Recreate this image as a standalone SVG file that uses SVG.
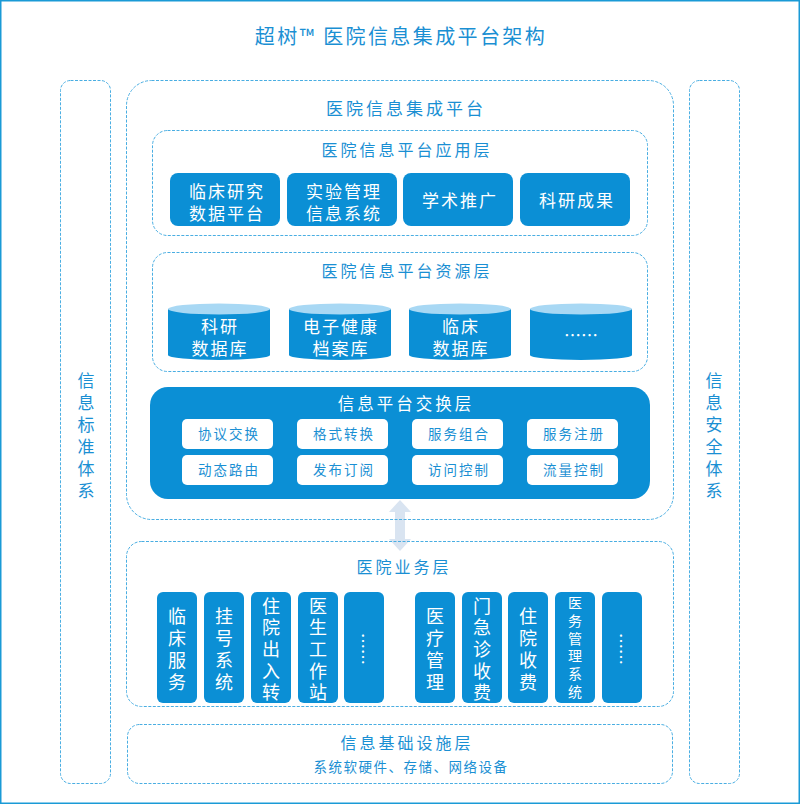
<svg xmlns="http://www.w3.org/2000/svg" width="800" height="805" viewBox="0 0 800 805">
<defs>
<style>
text{font-family:"Noto Sans CJK SC","Noto Sans",sans-serif;}
.frame{fill:#fff;stroke:#1a9ad6;stroke-width:1.5;}
.dash{fill:none;stroke:#4aaee2;stroke-width:1;stroke-dasharray:3 1.5;}
.ttl{fill:#1a8fd3;font-size:16px;letter-spacing:3px;text-anchor:middle;}
.big{fill:#1a8fd3;font-size:20px;letter-spacing:2.4px;text-anchor:middle;}
.vt{fill:#1a8fd3;font-size:17px;letter-spacing:5px;text-anchor:middle;writing-mode:vertical-rl;}
.box{fill:#0b8fd5;}
.wt{fill:#fff;font-size:17px;letter-spacing:2px;text-anchor:middle;}
.w2{font-family:"Liberation Sans","Noto Sans CJK SC",sans-serif;}
.wbox{fill:#fff;}
.bt{fill:#1a8fd3;font-size:13.5px;letter-spacing:2px;text-anchor:middle;}
.cyl{fill:#0b8fd5;}
.cyltop{fill:#a8d8f4;}
.vw{fill:#fff;font-size:18px;letter-spacing:3.7px;text-anchor:middle;writing-mode:vertical-rl;}
.vs{fill:#fff;font-size:14px;letter-spacing:3.7px;text-anchor:middle;writing-mode:vertical-rl;}
.arrow{fill:#d9e4f1;}
</style>
</defs>
<rect class="frame" x="0.75" y="0.75" width="798.5" height="802.5"/>
<text class="big" x="401" y="44">超树™ 医院信息集成平台架构</text>

<g id="connectors">
<polygon class="arrow" points="400,500 411,512 405,512 405,539 411,539 400,551 389,539 395,539 395,512 389,512"/>
</g>

<g id="std">
<rect class="dash" x="60.5" y="80.5" width="50" height="703" rx="10"/>
<text class="vt" x="86" y="438">信息标准体系</text>
</g>
<g id="sec">
<rect class="dash" x="689.5" y="80.5" width="50" height="703" rx="10"/>
<text class="vt" x="714" y="438">信息安全体系</text>
</g>

<g id="platform">
<rect class="dash" x="126.5" y="80.5" width="547" height="439" rx="25"/>
<text class="ttl" x="406" y="115" style="font-size:17px">医院信息集成平台</text>
</g>

<g id="app-layer">
<rect class="dash" x="152.5" y="130.5" width="495" height="105" rx="15"/>
<text class="ttl" x="407" y="156">医院信息平台应用层</text>
<g id="app1"><rect class="box" x="170" y="173" width="110" height="53" rx="8"/><text class="wt w2"><tspan x="227" y="198">临床研究</tspan><tspan x="227" y="220">数据平台</tspan></text></g>
<g id="app2"><rect class="box" x="287" y="173" width="110" height="53" rx="8"/><text class="wt w2"><tspan x="344" y="198">实验管理</tspan><tspan x="344" y="220">信息系统</tspan></text></g>
<g id="app3"><rect class="box" x="403" y="173" width="110" height="53" rx="8"/><text class="wt" x="460" y="207">学术推广</text></g>
<g id="app4"><rect class="box" x="520" y="173" width="110" height="53" rx="8"/><text class="wt" x="577" y="207">科研成果</text></g>
</g>

<g id="res-layer">
<rect class="dash" x="152.5" y="252.5" width="495" height="119" rx="15"/>
<text class="ttl" x="407" y="277">医院信息平台资源层</text>
<g id="db1"><path class="cyl" d="M168,309 L168,355 A51,5 0 0 0 270,355 L270,309 Z"/><ellipse class="cyltop" cx="219" cy="309" rx="51" ry="5.5"/><text class="wt w2"><tspan x="220" y="333">科研</tspan><tspan x="220" y="355">数据库</tspan></text></g>
<g id="db2"><path class="cyl" d="M289,309 L289,355 A51,5 0 0 0 391,355 L391,309 Z"/><ellipse class="cyltop" cx="340" cy="309" rx="51" ry="5.5"/><text class="wt w2"><tspan x="341" y="333">电子健康</tspan><tspan x="341" y="355">档案库</tspan></text></g>
<g id="db3"><path class="cyl" d="M409,309 L409,355 A51,5 0 0 0 511,355 L511,309 Z"/><ellipse class="cyltop" cx="460" cy="309" rx="51" ry="5.5"/><text class="wt w2"><tspan x="461" y="333">临床</tspan><tspan x="461" y="355">数据库</tspan></text></g>
<g id="db4"><path class="cyl" d="M530,309 L530,355 A51,5 0 0 0 632,355 L632,309 Z"/><ellipse class="cyltop" cx="581" cy="309" rx="51" ry="5.5"/><text class="wt" x="581" y="342" style="letter-spacing:0">……</text></g>
</g>

<g id="exchange-layer">
<rect class="box" x="150" y="387" width="500" height="112" rx="18"/>
<text class="wt" x="406" y="410" style="font-size:16.5px;letter-spacing:3px">信息平台交换层</text>
<g id="ex1"><rect class="wbox" x="182" y="419" width="91" height="30" rx="5"/><text class="bt" x="229" y="439">协议交换</text></g>
<g id="ex2"><rect class="wbox" x="297" y="419" width="91" height="30" rx="5"/><text class="bt" x="344" y="439">格式转换</text></g>
<g id="ex3"><rect class="wbox" x="412" y="419" width="91" height="30" rx="5"/><text class="bt" x="459" y="439">服务组合</text></g>
<g id="ex4"><rect class="wbox" x="527" y="419" width="91" height="30" rx="5"/><text class="bt" x="574" y="439">服务注册</text></g>
<g id="ex5"><rect class="wbox" x="182" y="455" width="91" height="30" rx="5"/><text class="bt" x="229" y="475">动态路由</text></g>
<g id="ex6"><rect class="wbox" x="297" y="455" width="91" height="30" rx="5"/><text class="bt" x="344" y="475">发布订阅</text></g>
<g id="ex7"><rect class="wbox" x="412" y="455" width="91" height="30" rx="5"/><text class="bt" x="459" y="475">访问控制</text></g>
<g id="ex8"><rect class="wbox" x="527" y="455" width="91" height="30" rx="5"/><text class="bt" x="574" y="475">流量控制</text></g>
</g>

<g id="biz-layer">
<rect class="dash" x="126.5" y="541.5" width="547" height="165" rx="15"/>
<text class="ttl" x="404" y="573">医院业务层</text>
<g id="b1"><rect class="box" x="157" y="592" width="40" height="111" rx="6"/><text class="vw" x="177" y="651">临床服务</text></g>
<g id="b2"><rect class="box" x="204" y="592" width="40" height="111" rx="6"/><text class="vw" x="224" y="651">挂号系统</text></g>
<g id="b3"><rect class="box" x="251" y="592" width="40" height="111" rx="6"/><text class="vw" x="271" y="651">住院出入转</text></g>
<g id="b4"><rect class="box" x="298" y="592" width="40" height="111" rx="6"/><text class="vw" x="318" y="651">医生工作站</text></g>
<g id="b5"><rect class="box" x="344" y="592" width="40" height="111" rx="6"/><text class="vw" x="364" y="649" style="font-size:16px;letter-spacing:0">……</text></g>
<g id="b6"><rect class="box" x="415" y="592" width="40" height="111" rx="6"/><text class="vw" x="435" y="651">医疗管理</text></g>
<g id="b7"><rect class="box" x="462" y="592" width="40" height="111" rx="6"/><text class="vw" x="482" y="651">门急诊收费</text></g>
<g id="b8"><rect class="box" x="508" y="592" width="40" height="111" rx="6"/><text class="vw" x="528" y="651">住院收费</text></g>
<g id="b9"><rect class="box" x="555" y="592" width="40" height="111" rx="6"/><text class="vs" x="575" y="649">医务管理系统</text></g>
<g id="b10"><rect class="box" x="602" y="592" width="40" height="111" rx="6"/><text class="vw" x="622" y="649" style="font-size:16px;letter-spacing:0">……</text></g>
</g>

<g id="infra-layer">
<rect class="dash" x="127.5" y="724.5" width="545" height="59" rx="12"/>
<text class="ttl" x="407" y="749">信息基础设施层</text>
<text class="bt" x="411" y="772" style="letter-spacing:1.5px">系统软硬件、存储、网络设备</text>
</g>
</svg>
